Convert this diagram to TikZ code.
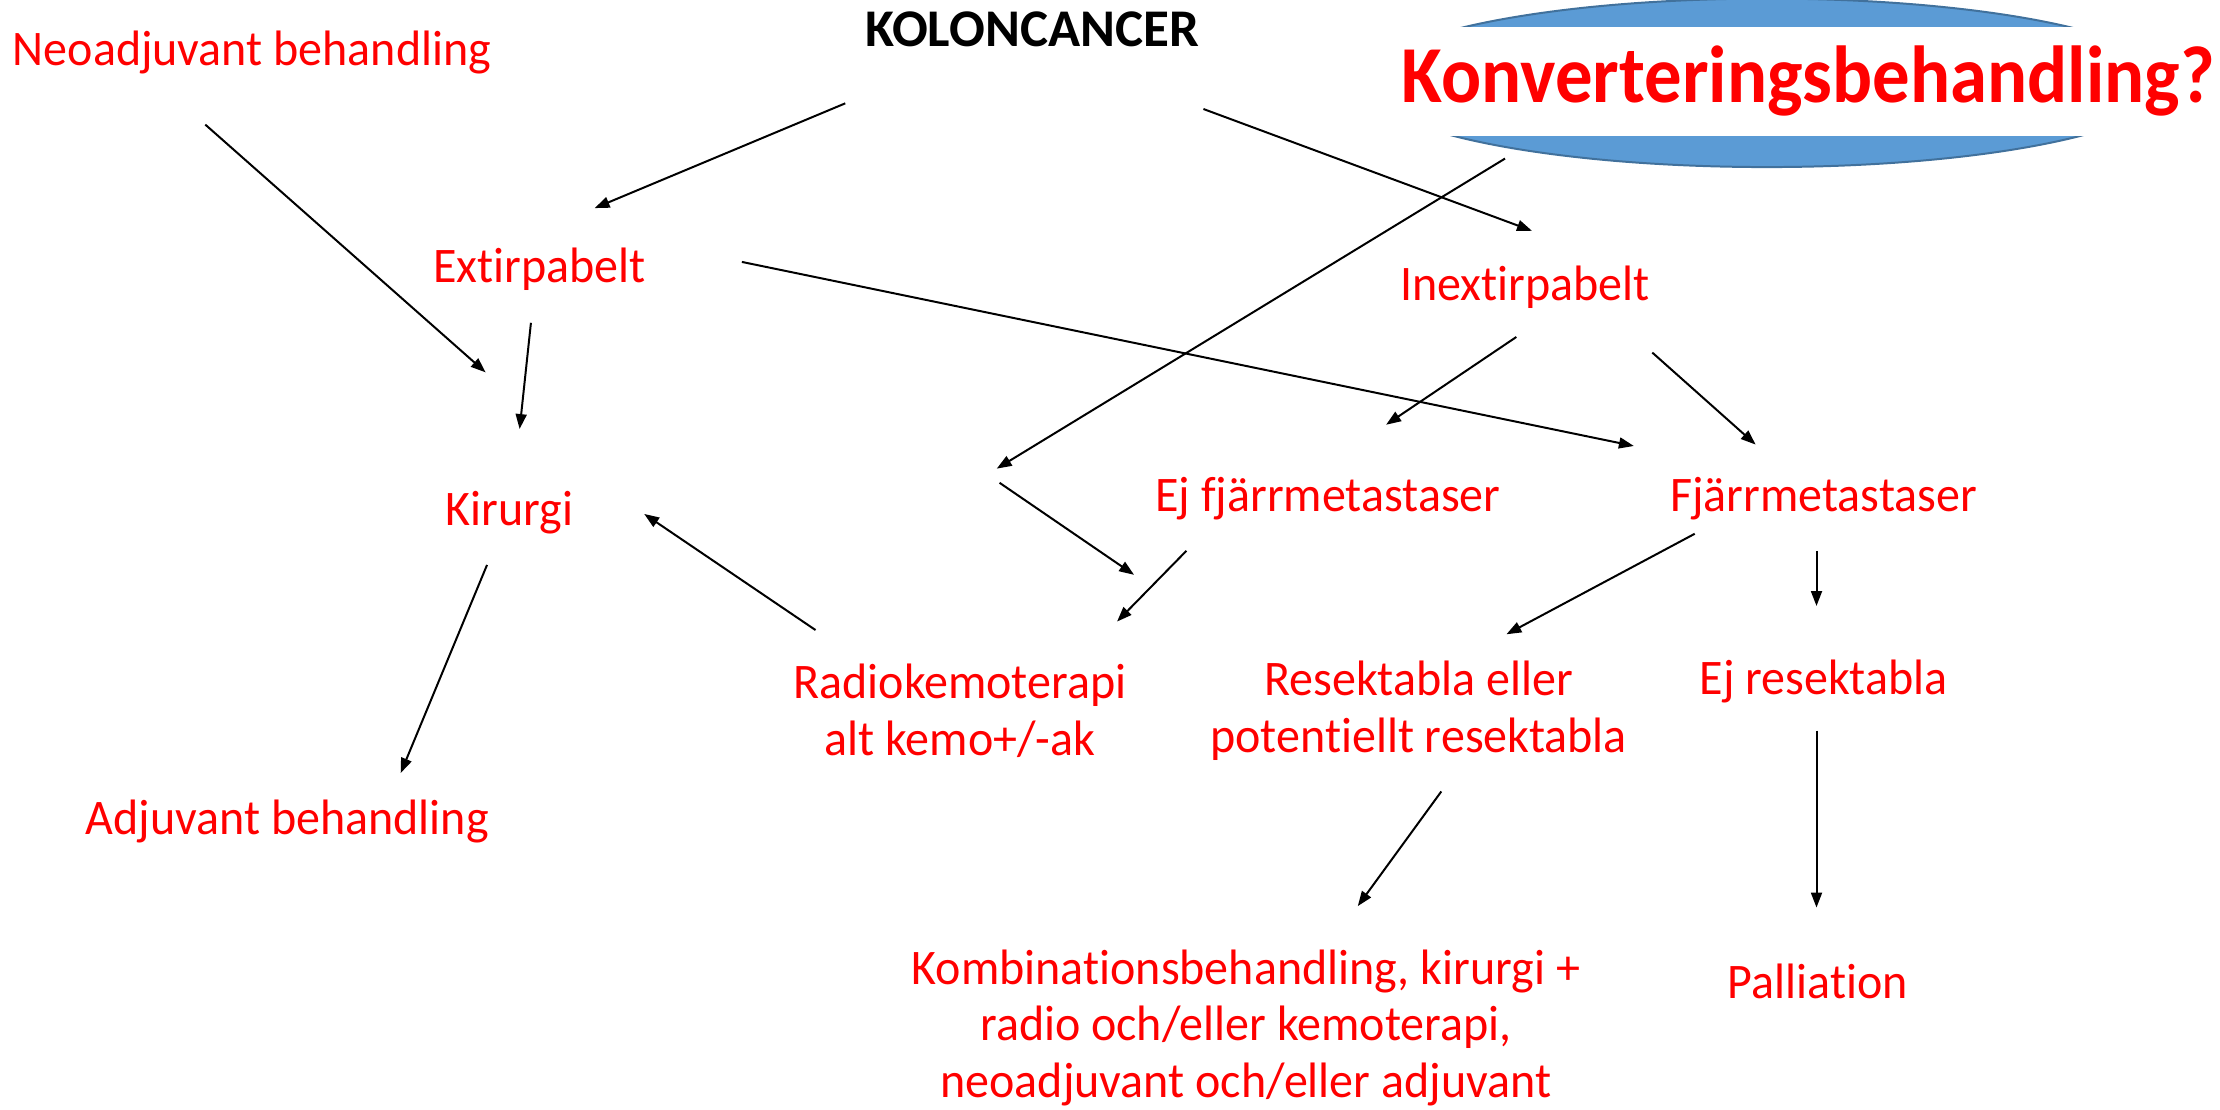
\documentclass[tikz,border=0pt]{standalone}
\usepackage{fontspec}
\setmainfont[Ligatures=NoCommon,FakeStretch=0.965]{Carlito}
\newfontfamily\headfont[Ligatures=NoCommon]{Carlito}
\newfontfamily\konvfont[Ligatures=NoCommon,FakeStretch=0.925]{Carlito}
\usetikzlibrary{arrows.meta,shapes.geometric}
\definecolor{ovalblue}{HTML}{5B9BD5}
\definecolor{ovaledge}{HTML}{41719C}
\begin{document}
\begin{tikzpicture}[x=0.02cm,y=-0.02cm,
  lbl/.style={text=red,font=\fontsize{20}{22.8}\selectfont,align=center,inner sep=0pt},
  head/.style={text=black,font=\headfont\bfseries\fontsize{21.3}{24}\selectfont,inner sep=0pt},
  arr/.style={draw=black,line width=0.8pt,-{Triangle[length=6pt,width=4.4pt]}}]
\useasboundingbox (0,0) rectangle (1568,784);

% oval behind the question, crossed by a white text band
\node[ellipse,draw=ovaledge,line width=0.8pt,fill=ovalblue,inner sep=0pt,
      minimum width=570*0.02cm,minimum height=119*0.02cm] (konvell) at (1248,58.5) {};
\node[fill=white,text=red,font=\konvfont\bfseries\fontsize{32.5}{36}\selectfont,
      inner sep=0pt,minimum width=680*0.02cm,minimum height=76.5*0.02cm] (konv) at (1277,57.5) {Konverteringsbehandling?};

% labels
\node[head] (kolon) at (729,21) {KOLONCANCER};
\node[lbl] (neo) at (178,37) {Neoadjuvant behandling};
\node[lbl] (ext) at (381,190) {Extirpabelt};
\node[lbl] (inext) at (1077,203) {Inextirpabelt};
\node[lbl] (kir) at (360,362) {Kirurgi};
\node[lbl] (ejf) at (938,352) {Ej fjärrmetastaser};
\node[lbl] (fj) at (1288,352) {Fjärrmetastaser};
\node[lbl] (radio) at (678,502) {Radiokemoterapi\\alt kemo+/-ak};
\node[lbl] (res) at (1002,502) {Resektabla eller\\potentiellt resektabla};
\node[lbl] (ejres) at (1288,481) {Ej resektabla};
\node[lbl] (adj) at (203,580) {Adjuvant behandling};
\node[lbl] (komb) at (880,726) {Kombinationsbehandling, kirurgi +\\radio och/eller kemoterapi,\\neoadjuvant och/eller adjuvant};
\node[lbl] (pall) at (1284,693) {Palliation};
\coordinate (mid) at (705,336);

% connectors
\draw[arr] ([shift={(-33,51)}]neo.center) -- ([shift={(-17,-99)}]kir.center);
\draw[arr] ([shift={(-132,52)}]kolon.center) -- ([shift={(39,-43)}]ext.center);
\draw[arr] ([shift={(121,56)}]kolon.center) -- ([shift={(5,-40)}]inext.center);
\draw[arr] ([shift={(-185,53.5)}]konvell.center) -- ([shift={(-1,-5)}]mid);
\draw[arr] ([shift={(-6,38)}]ext.center) -- ([shift={(7,-59)}]kir.center);
\draw[arr] ([shift={(143,-5)}]ext.center) -- ([shift={(-134,-37)}]fj.center);
\draw[arr] ([shift={(-6,35)}]inext.center) -- ([shift={(41,-52)}]ejf.center);
\draw[arr] ([shift={(90,46)}]inext.center) -- ([shift={(-48,-38)}]fj.center);
\draw[arr] ([shift={(1,5)}]mid) -- ([shift={(123,-96)}]radio.center);
\draw[arr] ([shift={(-100,37)}]ejf.center) -- ([shift={(111,-63)}]radio.center);
\draw[arr] ([shift={(-102,-57)}]radio.center) -- ([shift={(95,1)}]kir.center);
\draw[arr] ([shift={(-16,37)}]kir.center) -- ([shift={(80,-34)}]adj.center);
\draw[arr] ([shift={(-91,25)}]fj.center) -- ([shift={(62,-54)}]res.center);
\draw[arr] ([shift={(-5,37)}]fj.center) -- ([shift={(-5,-53)}]ejres.center);
\draw[arr] ([shift={(16,57)}]res.center) -- ([shift={(79,-86)}]komb.center);
\draw[arr] ([shift={(-5,35)}]ejres.center) -- ([shift={(-1,-52)}]pall.center);
\end{tikzpicture}
\end{document}
